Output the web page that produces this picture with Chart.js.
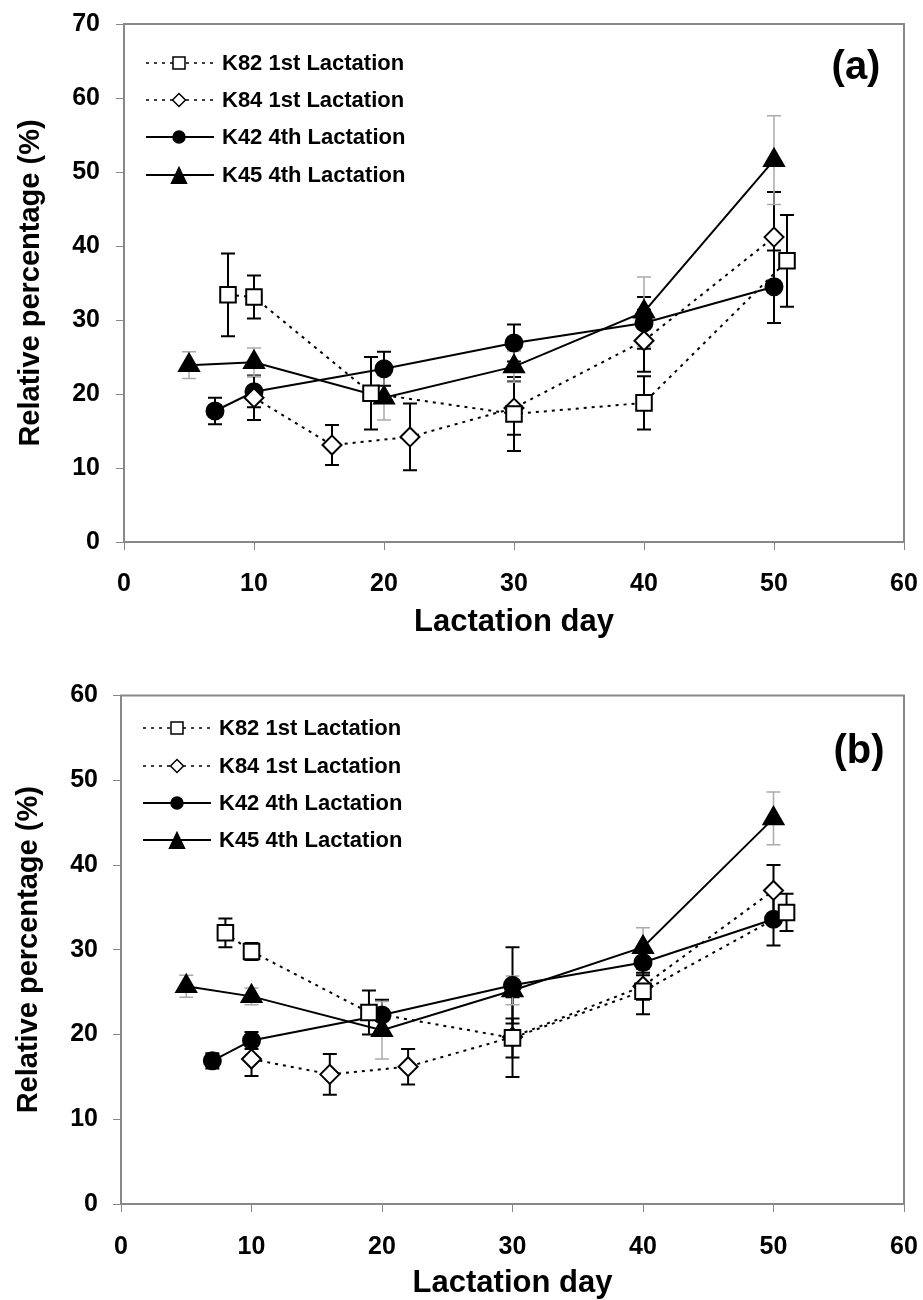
<!DOCTYPE html>
<html>
<head>
<meta charset="utf-8">
<script src="https://cdn.jsdelivr.net/npm/chart.js@4.4.0/dist/chart.umd.min.js"></script>
<style>
  html, body { margin: 0; padding: 0; background: #fff; overflow: hidden; }
  canvas { position: absolute; left: 0; }
  #chartA { top: 0; }
  #chartB { top: 682px; }
</style>
</head>
<body>
<canvas id="chartA" width="923" height="682"></canvas>
<canvas id="chartB" width="923" height="638"></canvas>
<script>
/* Legend labels */
var seriesNames = ['K82 1st Lactation', 'K84 1st Lactation', 'K42 4th Lactation', 'K45 4th Lactation'];

/* Lactation days sampled per animal */
var daysK82 = [8, 10, 19, 30, 40, 51];
var daysK84 = [10, 16, 22, 30, 40, 50];
var daysK42 = [7, 10, 20, 30, 40, 50];
var daysK45 = [5, 10, 20, 30, 40, 50];

/* Panel (a): relative percentage and error (+/-) */
var k82A = [33.4, 33.1, 20.1, 17.3, 18.8, 38.0];
var k82AErr = [5.6, 2.9, 4.9, 5.0, 3.6, 6.2];
var k84A = [19.5, 13.1, 14.2, 18.1, 27.2, 41.2];
var k84AErr = [3.0, 2.7, 4.5, 3.6, 4.2, 6.1];
var k42A = [17.7, 20.3, 23.4, 26.9, 29.6, 34.5];
var k42AErr = [1.8, 2.1, 2.3, 2.5, 3.5, 4.9];
var k45A = [23.9, 24.3, 19.5, 23.7, 31.1, 51.6];
var k45AErr = [1.8, 1.9, 3.0, 2.1, 4.7, 6.0];

/* Panel (b) */
var k82B = [32.0, 29.8, 22.6, 19.6, 25.1, 34.4];
var k82BErr = [1.7, 1.0, 2.6, 2.3, 2.7, 2.2];
var k84B = [17.1, 15.3, 16.2, 19.7, 25.7, 37.0];
var k84BErr = [2.0, 2.4, 2.1, 4.7, 1.6, 3.0];
var k42B = [16.9, 19.3, 22.3, 25.8, 28.5, 33.6];
var k42BErr = [0.9, 1.0, 1.8, 4.5, 1.5, 3.1];
var k45B = [25.7, 24.5, 20.5, 25.2, 30.3, 45.5];
var k45BErr = [1.3, 1.0, 3.4, 1.7, 2.3, 3.1];

/* Axis ranges */
var xMin = 0, xMax = 60, xStep = 10;
var yMaxA = 70, yMaxB = 60, yStep = 10;

var FONT = '"Liberation Sans", Arial, sans-serif';

/* marker / line style per series */
var styles = [
  {point: 'rect', radius: 11, fill: '#fff', dash: [3, 5], errColor: '#000', errWidth: 2},
  {point: 'rectRot', radius: 9.5, fill: '#fff', dash: [3, 5], errColor: '#000', errWidth: 2},
  {point: 'circle', radius: 8.5, fill: '#000', dash: [], errColor: '#000', errWidth: 2},
  {point: 'triangle', radius: 11.5, fill: '#000', dash: [], errColor: '#aaa', errWidth: 1.5}
];

function makeDataset(i, days, vals, errs) {
  var s = styles[i];
  return {
    label: seriesNames[i],
    data: days.map(function(d, k) { return {x: d, y: vals[k]}; }),
    errors: errs,
    errColor: s.errColor,
    errWidth: s.errWidth,
    borderColor: '#000',
    borderWidth: 2,
    borderDash: s.dash,
    backgroundColor: s.fill,
    pointStyle: s.point,
    pointRadius: s.radius,
    pointHoverRadius: s.radius,
    pointBackgroundColor: s.fill,
    pointBorderColor: '#000',
    pointBorderWidth: 2,
    fill: false,
    tension: 0,
    showLine: true
  };
}

/* Vertical error bars with caps, under the markers */
var errorBars = {
  id: 'errorBars',
  beforeDatasetsDraw: function(chart) {
    var ctx = chart.ctx, xs = chart.scales.x, ys = chart.scales.y;
    chart.data.datasets.forEach(function(ds) {
      ctx.save();
      ctx.strokeStyle = ds.errColor;
      ctx.lineWidth = ds.errWidth;
      ctx.setLineDash([]);
      ds.data.forEach(function(p, i) {
        var px = xs.getPixelForValue(p.x);
        var top = ys.getPixelForValue(p.y + ds.errors[i]);
        var bot = ys.getPixelForValue(p.y - ds.errors[i]);
        ctx.beginPath();
        ctx.moveTo(px, top); ctx.lineTo(px, bot);
        ctx.moveTo(px - 7, top); ctx.lineTo(px + 7, top);
        ctx.moveTo(px - 7, bot); ctx.lineTo(px + 7, bot);
        ctx.stroke();
      });
      ctx.restore();
    });
  }
};

/* grey box round the plot area */
var frame = {
  id: 'frame',
  afterDraw: function(chart) {
    var a = chart.chartArea, ctx = chart.ctx;
    ctx.save();
    ctx.strokeStyle = '#888';
    ctx.lineWidth = 2;
    ctx.setLineDash([]);
    ctx.strokeRect(a.left, a.top, a.right - a.left, a.bottom - a.top);
    ctx.restore();
  }
};

function drawMarker(ctx, style, x, y, r, fill) {
  ctx.beginPath();
  if (style === 'rect') {
    ctx.rect(x - r, y - r, 2 * r, 2 * r);
  } else if (style === 'rectRot') {
    ctx.moveTo(x, y - r); ctx.lineTo(x + r, y); ctx.lineTo(x, y + r); ctx.lineTo(x - r, y); ctx.closePath();
  } else if (style === 'circle') {
    ctx.arc(x, y, r, 0, Math.PI * 2);
  } else {
    ctx.moveTo(x, y - r); ctx.lineTo(x + r, y + r * 1.1); ctx.lineTo(x - r, y + r * 1.1); ctx.closePath();
  }
  ctx.fillStyle = fill;
  ctx.fill();
  ctx.lineWidth = 1.5;
  ctx.strokeStyle = '#000';
  ctx.stroke();
}

/* Legend: line + marker + text, plus panel tag */
var sketchLegend = {
  id: 'sketchLegend',
  afterDraw: function(chart, args, opts) {
    var ctx = chart.ctx;
    var sizes = [6, 6.5, 6, 7.5];
    ctx.save();
    chart.data.datasets.forEach(function(ds, i) {
      var y = opts.rows[i];
      var s = styles[i];
      ctx.beginPath();
      ctx.setLineDash(s.dash.length ? [3, 5] : []);
      ctx.lineWidth = s.dash.length ? 1.5 : 2;
      ctx.strokeStyle = '#000';
      ctx.moveTo(opts.x0, y);
      ctx.lineTo(opts.x1, y);
      ctx.stroke();
      ctx.setLineDash([]);
      drawMarker(ctx, s.point, opts.mx, y, sizes[i], s.fill);
      ctx.fillStyle = '#000';
      ctx.font = 'bold 22px ' + FONT;
      ctx.textBaseline = 'middle';
      ctx.textAlign = 'left';
      ctx.fillText(ds.label, opts.tx, y + 1);
    });
    ctx.font = 'bold 40px ' + FONT;
    ctx.textAlign = 'center';
    ctx.fillText(opts.tag, opts.tagX, opts.tagY);
    ctx.restore();
  }
};

function buildChart(id, datasets, yMax, conf) {
  return new Chart(document.getElementById(id), {
    type: 'line',
    data: {datasets: datasets},
    plugins: [errorBars, frame, sketchLegend],
    options: {
      responsive: false,
      animation: false,
      events: [],
      layout: {padding: {left: 0, top: conf.top, right: 19, bottom: 0}},
      plugins: {
        legend: {display: false},
        tooltip: {enabled: false},
        sketchLegend: conf.legend
      },
      scales: {
        x: {
          type: 'linear',
          min: xMin, max: xMax,
          ticks: {stepSize: xStep, color: '#000', padding: conf.xPad, font: {family: FONT, size: 25, weight: 'bold'}},
          grid: {drawOnChartArea: false, drawTicks: true, tickLength: 8, color: '#888'},
          border: {color: '#888', width: 2},
          title: {display: true, text: 'Lactation day', color: '#000', padding: {top: 0, bottom: conf.xTitlePad},
                  font: {family: FONT, size: 31, weight: 'bold'}},
          afterFit: function(s) { s.height = conf.xHeight; s.paddingLeft = 0; s.paddingRight = 0; }
        },
        y: {
          min: 0, max: yMax,
          ticks: {stepSize: yStep, color: '#000', padding: conf.yPad, font: {family: FONT, size: 25, weight: 'bold'}},
          grid: {drawOnChartArea: false, drawTicks: true, tickLength: 8, color: '#888'},
          border: {color: '#888', width: 2},
          title: {display: true, text: 'Relative percentage (%)', color: '#000', padding: {top: conf.yTitlePad, bottom: 0},
                  font: {family: FONT, size: 29, weight: 'bold'}},
          afterFit: function(s) { s.width = conf.yWidth; s.paddingTop = 0; s.paddingBottom = 0; }
        }
      }
    }
  });
}

buildChart('chartA', [
  makeDataset(0, daysK82, k82A, k82AErr),
  makeDataset(1, daysK84, k84A, k84AErr),
  makeDataset(2, daysK42, k42A, k42AErr),
  makeDataset(3, daysK45, k45A, k45AErr)
], yMaxA, {
  top: 24, yWidth: 124, xHeight: 140, xPad: 19, yPad: 16, xTitlePad: 41, yTitlePad: 14,
  legend: {rows: [63, 100, 137, 175], x0: 146, x1: 214, mx: 179, tx: 222, tag: '(a)', tagX: 856, tagY: 68}
});

buildChart('chartB', [
  makeDataset(0, daysK82, k82B, k82BErr),
  makeDataset(1, daysK84, k84B, k84BErr),
  makeDataset(2, daysK42, k42B, k42BErr),
  makeDataset(3, daysK45, k45B, k45BErr)
], yMaxB, {
  top: 5, yWidth: 121, xHeight: 116, xPad: 20, yPad: 15, xTitlePad: 18, yTitlePad: 12,
  legend: {rows: [46, 84, 121, 158], x0: 143, x1: 211, mx: 177, tx: 219, tag: '(b)', tagX: 859, tagY: 70}
});
</script>
</body>
</html>
